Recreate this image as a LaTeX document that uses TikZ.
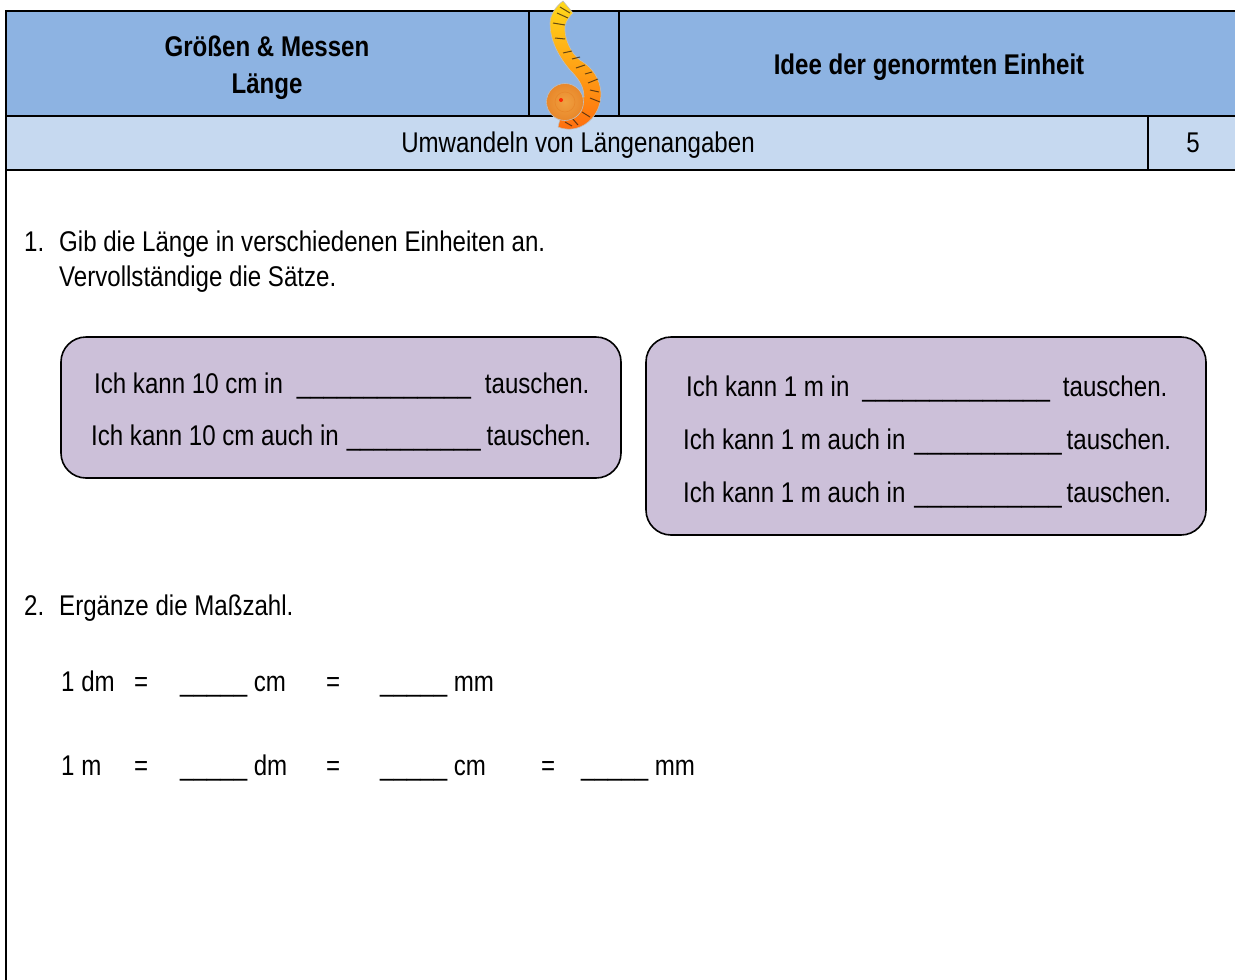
\documentclass[tikz,border=0pt]{standalone}
\usepackage{fontspec}
\setmainfont[FakeStretch=0.845]{Liberation Sans}
\definecolor{headblue}{HTML}{8DB3E2}
\definecolor{subblue}{HTML}{C6D9F0}
\definecolor{boxlilac}{HTML}{CCC0D9}
\definecolor{tapeY}{HTML}{FFD91A}
\definecolor{tapeM}{HTML}{FFA41A}
\definecolor{tapeO}{HTML}{FF6E0F}
\definecolor{faceO}{HTML}{F0A040}
\definecolor{faceD}{HTML}{E8872A}
\tikzset{
  x=1pt,y=-1pt,
  cell/.style={draw=black,line width=2.2pt,inner sep=0pt},
  txt/.style={anchor=base west,inner sep=0pt,font=\fontsize{28.5}{34}\selectfont,text=black},
  ctxt/.style={anchor=base,inner sep=0pt,font=\fontsize{28.5}{34}\selectfont,text=black},
  hd/.style={anchor=base,inner sep=0pt,font=\bfseries\fontsize{28.5}{34}\selectfont,text=black},
  lilac/.style={draw=black,line width=1.6pt,fill=boxlilac,rounded corners=25pt},
  tick/.style={draw=black!75!brown,line width=1pt,opacity=.75}
}
\newcommand{\blank}[1]{\foreach \k in {1,...,#1}{\_}}
\begin{document}
\begin{tikzpicture}
\useasboundingbox (0,0) rectangle (1235,980);
\fill[white] (0,0) rectangle (1235,980);
% header
\path[cell,fill=headblue] (6,11) rectangle (529,116);
\path[cell,fill=headblue] (529,11) rectangle (619,116);
\path[cell,fill=headblue] (619,11) rectangle (1240,116);
\path[cell,fill=subblue] (6,116) rectangle (1148,170);
\path[cell,fill=subblue] (1148,116) rectangle (1240,170);
\draw[cell] (6,170) -- (6,980);
% tape measure
\shade[top color=tapeY,middle color=tapeM,bottom color=tapeO,draw=gray!50,line width=.6pt]
 (563,1) -- (573,13) .. controls (567,19) and (564,25) .. (565,31)
 .. controls (566,45) and (575,58) .. (583,62)
 .. controls (592,68) and (600,78) .. (601,93)
 .. controls (601,110) and (592,122) .. (580,127)
 .. controls (572,130) and (566,130) .. (558,127)
 -- (565,100) -- (584,97)
 .. controls (584,88) and (580,80) .. (570,70)
 .. controls (558,56) and (550,40) .. (550,23)
 .. controls (550,15) and (556,6) .. (563,1) -- cycle;
\foreach \a/\b/\c/\d in {560/7/570/13,557/13/568/18,553/23/565/25,555/38/565/39,563/53/572/51,572/59/580/57,576/68/585/65,585/74/592/72,588/83/598/79,590/90/599/92,590/98/600/102,582/112/590/117,572/118/578/125,565/122/572/126}{
  \draw[tick] (\a,\b) -- (\c,\d);
}
\shade[inner color=faceO,outer color=faceD,draw=gray!50,line width=.6pt] (565,102) circle[radius=18.5];
\draw[faceD,line width=.6pt] (565,102) circle[radius=10];
\fill[red!70!orange] (561,100) circle[radius=2];
% header text
\node[hd] (t1) at (267,56.5) {Größen \& Messen};
\node[hd] (t2) at (267,93) {Länge};
\node[hd] (t3) at (929,74) {Idee der genormten Einheit};
\node[ctxt] (t4) at (578,152) {Umwandeln von Längenangaben};
\node[ctxt] (t5) at (1193,152) {5};
% task 1
\node[txt] (a1) at (24,251.5) {1.};
\node[txt] (a2) at (59,251.5) {Gib die Länge in verschiedenen Einheiten an.};
\node[txt] (a3) at (59,286) {Vervollständige die Sätze.};
% boxes
\path[lilac] (61,337) rectangle (621,478);
\path[lilac] (646,337) rectangle (1206,535);
\node[txt] (b1) at (94,393.5) {Ich kann 10 cm in\hspace{14pt}\blank{13}\hspace{14pt}tauschen.};
\node[txt] (b2) at (91,445.5) {Ich kann 10 cm auch in\hspace{8pt}\blank{10}\hspace{6pt}tauschen.};
\node[txt] (c1) at (686,396) {Ich kann 1 m in\hspace{13pt}\blank{14}\hspace{13pt}tauschen.};
\node[txt] (c2) at (683,449) {Ich kann 1 m auch in\hspace{9pt}\blank{11}\hspace{5pt}tauschen.};
\node[txt] (c3) at (683,502) {Ich kann 1 m auch in\hspace{9pt}\blank{11}\hspace{5pt}tauschen.};
% task 2
\node[txt] (d1) at (24,615) {2.};
\node[txt] (d2) at (59,615) {Ergänze die Maßzahl.};
\node[txt] (e1) at (61,691) {1 dm};
\node[txt] (e2) at (134,691) {=};
\node[txt] (e3) at (180,691) {\blank{5} cm};
\node[txt] (e4) at (326,691) {=};
\node[txt] (e5) at (380,691) {\blank{5} mm};
\node[txt] (f1) at (61,775) {1 m};
\node[txt] (f2) at (134,775) {=};
\node[txt] (f3) at (180,775) {\blank{5} dm};
\node[txt] (f4) at (326,775) {=};
\node[txt] (f5) at (380,775) {\blank{5} cm};
\node[txt] (f6) at (541,775) {=};
\node[txt] (f7) at (581,775) {\blank{5} mm};
\end{tikzpicture}
\end{document}
